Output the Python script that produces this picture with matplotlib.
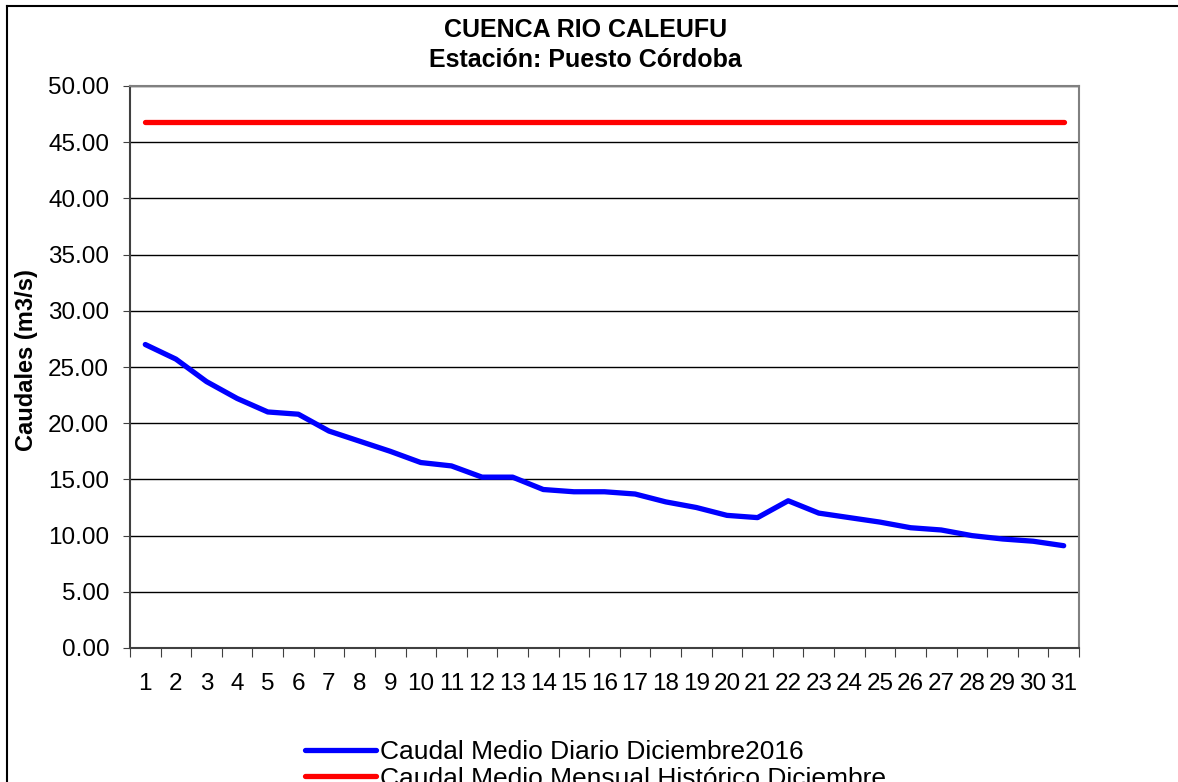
import numpy as np
import matplotlib
matplotlib.use('Agg')
import matplotlib.pyplot as plt
from matplotlib.lines import Line2D

plt.rcParams['font.family'] = ['Liberation Sans', 'DejaVu Sans']

dias = list(range(1, 32))
caudal_diario = [27.0, 25.7, 23.7, 22.2, 21.0, 20.8, 19.3, 18.4, 17.5, 16.5,
                 16.2, 15.2, 15.2, 14.1, 13.9, 13.9, 13.7, 13.0, 12.5, 11.8,
                 11.6, 13.1, 12.0, 11.6, 11.2, 10.7, 10.5, 10.0, 9.7, 9.5, 9.1]
caudal_historico = [46.8] * 31

W, H = 1178, 782
fig = plt.figure(figsize=(W/100, H/100), dpi=100)
ax = fig.add_axes([130/W, 1 - 648/H, 949/W, 562/H])

ax.plot(dias, caudal_diario, color='#0000ff', lw=3.8, solid_capstyle='round',
        label='Caudal Medio Diario Diciembre2016', zorder=3)
ax.plot(dias, caudal_historico, color='#ff0000', lw=3.8, solid_capstyle='round',
        label='Caudal Medio Mensual Histórico Diciembre', zorder=3)

ax.set_xlim(0.5, 31.5)
ax.set_ylim(0, 50)
yt = np.arange(0, 50.1, 5)
ax.set_yticks(yt)
ax.set_yticklabels(['%.2f' % v for v in yt], fontsize=17.5)
ax.set_xticks(np.arange(0.5, 31.6, 1))
ax.set_xticklabels([])
ax.set_xticks(dias, minor=True)
ax.set_xticklabels([str(d) for d in dias], minor=True, fontsize=17.5)
ax.tick_params(axis='x', which='major', direction='out', length=6.5, color='#404040')
ax.tick_params(axis='x', which='minor', length=0, pad=18)
ax.tick_params(axis='y', direction='out', length=5, color='#404040', pad=10)

ax.grid(axis='y', color='black', lw=1.0, zorder=1)
for s in ax.spines.values():
    s.set_color('#808080')
    s.set_linewidth(1.5)
ax.spines['left'].set_color('#404040')
ax.spines['bottom'].set_color('#404040')

fig.text(27/W, 1 - 360/H, 'Caudales (m3/s)', rotation=90, ha='center', va='center',
         fontsize=17, fontweight='bold')

fig.text(0.497, 1 - 37/H, 'CUENCA RIO CALEUFU', ha='center', va='baseline',
         fontsize=18, fontweight='bold')
fig.text(0.497, 1 - 67/H, 'Estación: Puesto Córdoba', ha='center', va='baseline',
         fontsize=18, fontweight='bold')

fig.legend(loc='upper left', bbox_to_anchor=(305/W, 1 - 740/H),
           frameon=False, fontsize=19, handlelength=2.7, handletextpad=0.15,
           labelspacing=0.1, borderaxespad=0, borderpad=0)

# chart frame: only top and left edges show inside the image
fig.add_artist(Line2D([7/W, 1.0], [1 - 6/H, 1 - 6/H], transform=fig.transFigure,
                      color='black', lw=1.5))
fig.add_artist(Line2D([7/W, 7/W], [0, 1 - 6/H], transform=fig.transFigure,
                      color='black', lw=1.5))

fig.savefig('out.png', dpi=100)
